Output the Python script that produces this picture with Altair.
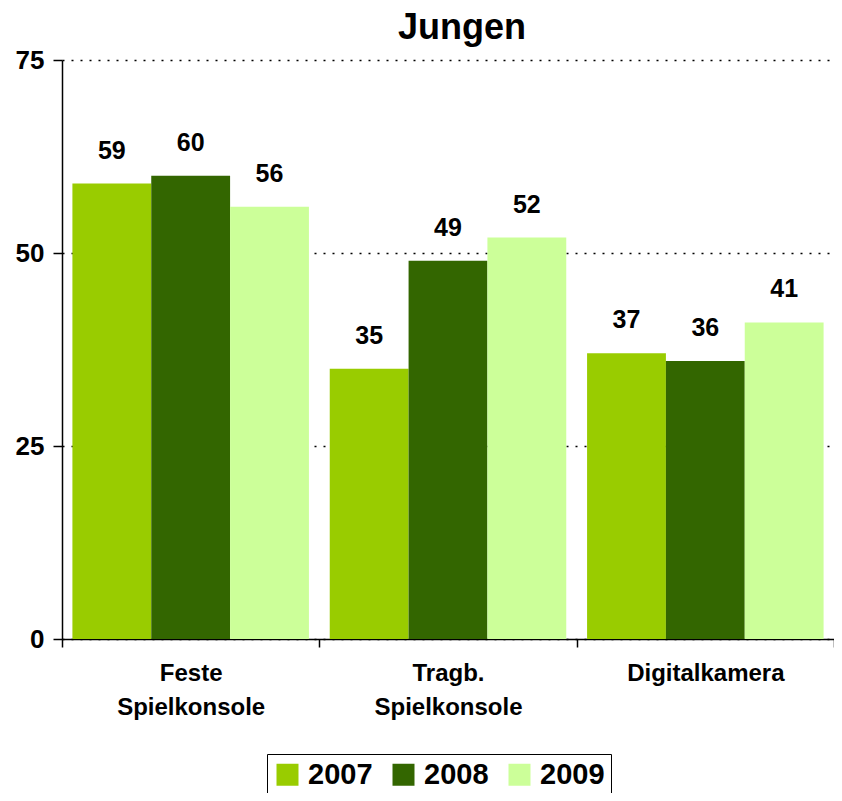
import altair as alt
import pandas as pd

categories = ["Feste Spielkonsole", "Tragb. Spielkonsole", "Digitalkamera"]
years = ["2007", "2008", "2009"]
v2007 = [59, 35, 37]
v2008 = [60, 49, 36]
v2009 = [56, 52, 41]
colors = ["#99CC00", "#336600", "#CCFF99"]

rows = []
for i, c in enumerate(categories):
    for y, vals in zip(years, [v2007, v2008, v2009]):
        rows.append({"cat": c, "year": y, "value": vals[i]})
df = pd.DataFrame(rows)

FONT = "Liberation Sans"

x = alt.X("cat:N", sort=categories, title=None,
          scale=alt.Scale(paddingInner=0, paddingOuter=0),
          axis=alt.Axis(labelExpr="split(datum.label, ' ')", labelAngle=0,
                        labelFont=FONT, labelFontSize=24, labelFontWeight="bold",
                        labelColor="black", labelLineHeight=34, labelPadding=14,
                        domainColor="black", domainWidth=1.5, tickColor="black",
                        tickWidth=1.5, tickSize=8, tickBand="extent", grid=False))
y = alt.Y("value:Q", title=None,
          scale=alt.Scale(domain=[0, 75], nice=False),
          axis=alt.Axis(values=[0, 25, 50, 75], labelFont=FONT, labelFontSize=26,
                        labelFontWeight="bold", labelColor="black", labelPadding=9,
                        domainColor="black", domainWidth=1.5, tickColor="black",
                        tickWidth=1.5, tickSize=9, grid=True, gridColor="black",
                        gridDash=[2, 7], gridWidth=1.5))

color = alt.Color("year:N", sort=years,
                  scale=alt.Scale(domain=years, range=colors),
                  legend=alt.Legend(title=None, orient="none", direction="horizontal",
                                    legendX=205, legendY=694,
                                    symbolType="square", symbolSize=484,
                                    symbolStrokeWidth=0, symbolOpacity=1,
                                    labelFont=FONT, labelFontSize=29,
                                    labelFontWeight="bold", labelColor="black",
                                    columnPadding=16, labelOffset=6,
                                    strokeColor="black", padding=6))

xoff_scale = alt.Scale(paddingInner=0, paddingOuter=0.132)

base = alt.Chart(df)
bars = base.mark_bar(opacity=1).encode(
    x=x, y=y, color=color,
    xOffset=alt.XOffset("year:N", sort=years, scale=xoff_scale),
)
labels = base.mark_text(baseline="alphabetic", dy=-25, font=FONT, fontSize=25,
                        fontWeight="bold", color="black").encode(
    x=alt.X("cat:N", sort=categories),
    y="value:Q",
    xOffset=alt.XOffset("year:N", sort=years, scale=xoff_scale),
    text="value:Q",
)

chart = (bars + labels).properties(
    width=772, height=579,
    title=alt.TitleParams("Jungen", font=FONT, fontSize=36, fontWeight="bold",
                          color="black", anchor="middle", dx=14, offset=0),
    autosize=alt.AutoSizeParams(type="none"),
    padding={"left": 54, "top": 52, "right": 0, "bottom": 154},
).configure_view(stroke=None)

chart.save("out.html", embed_options={"renderer": "svg", "actions": False})
